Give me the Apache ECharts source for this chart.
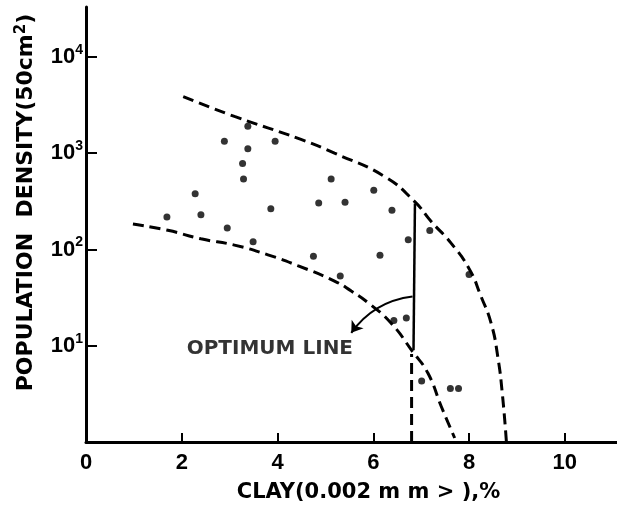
<!DOCTYPE html>
<html>
<head>
<meta charset="utf-8">
<script src="https://cdn.jsdelivr.net/npm/echarts@6/dist/echarts.min.js"></script>
<style>
  html, body { margin: 0; padding: 0; background: #fff; }
  #chart { width: 617px; height: 510px; }
</style>
</head>
<body>
<div id="chart"></div>
<script>
// Population density vs clay content, with envelope curves and optimum line

const xTickValues = [2, 4, 6, 8, 10];
const xLabelValues = [0, 2, 4, 6, 8, 10];
const yTickValues = [10, 100, 1000, 10000];

// observed points
const clayPct = [3.38, 2.89, 3.95, 3.38, 3.27, 3.29, 5.12, 2.28, 6.01, 4.86,
  5.41, 6.39, 3.86, 1.69, 2.40, 2.95, 3.49, 6.73, 6.14, 4.75,
  5.31, 6.43, 6.69, 7.18, 8.00, 7.01, 7.61, 7.78];
const density = [1900, 1330, 1330, 1110, 780, 540, 540, 378, 411, 304,
  309, 255, 265, 218, 230, 167, 120, 126, 87, 85,
  53, 18.3, 19.4, 157, 55, 4.3, 3.6, 3.6];

// upper dashed envelope
const upperX = [2.03, 3.10, 4.49, 5.19, 6.23, 6.86, 7.21, 7.62, 8.01, 8.25, 8.46, 8.60, 8.70, 8.78];
const upperY = [3870, 2410, 1390, 1000, 575, 316, 195, 117, 62, 32.5, 17.2, 7.7, 3.0, 1];

// lower dashed envelope
const lowerX = [0.98, 1.71, 2.40, 3.10, 3.80, 4.42, 5.19, 5.54, 5.89, 6.37, 6.82, 7.14, 7.42, 7.70];
const lowerY = [184, 158, 129, 111, 88, 68, 47, 37, 28, 17.2, 8.7, 5.2, 2.34, 1.1];

// optimum line (solid) and its dashed drop to the axis
const optX = [6.84, 6.87];
const optY = [9, 300];
const dropX = [6.80, 6.80];
const dropY = [1, 8.2];

// annotation arrow and label
const arrowFrom = [6.82, 32.5];
const arrowTo = [5.54, 13.6];
const noteText = 'OPTIMUM LINE';
const notePos = [3.84, 9.3];

const zip = (xs, ys) => xs.map((x, i) => [x, ys[i]]);

const INK = '#000';
const LABEL_FONT = 'Liberation Sans';
const TITLE_FONT = 'DejaVu Sans';

const dashed = { color: INK, width: 3, type: [11, 6] };

const chart = echarts.init(document.getElementById('chart'), null, { renderer: 'canvas' });

chart.setOption({
  backgroundColor: '#fff',
  animation: false,
  grid: { left: 86, right: 0, top: 7, bottom: 68 },
  xAxis: {
    type: 'value',
    min: 0,
    max: 11.09,
    name: 'CLAY(0.002 m m > ),%',
    nameLocation: 'middle',
    nameGap: 40,
    nameTextStyle: {
      color: INK, fontFamily: TITLE_FONT, fontWeight: 'bold', fontSize: 21,
      padding: [0, 0, 0, 34]
    },
    axisLine: { onZero: false, lineStyle: { color: INK, width: 3 } },
    axisTick: { inside: true, length: 9, customValues: xTickValues, lineStyle: { color: INK, width: 2 } },
    axisLabel: {
      customValues: xLabelValues,
      color: INK, fontFamily: LABEL_FONT, fontWeight: 'bold', fontSize: 22, margin: 10
    },
    splitLine: { show: false }
  },
  yAxis: {
    type: 'log',
    logBase: 10,
    min: 1,
    max: 33000,
    name: '{a|POPULATION  DENSITY(50cm}{s|2}{a|)}',
    nameLocation: 'middle',
    nameGap: 47,
    nameTextStyle: {
      color: INK,
      padding: [0, 0, 0, 44],
      rich: {
        a: { color: INK, fontFamily: TITLE_FONT, fontWeight: 'bold', fontSize: 22, lineHeight: 25 },
        s: { color: INK, fontFamily: TITLE_FONT, fontWeight: 'bold', fontSize: 15, verticalAlign: 'top', lineHeight: 15 }
      }
    },
    axisLine: { lineStyle: { color: INK, width: 3 } },
    axisTick: { inside: true, length: 11, customValues: yTickValues, lineStyle: { color: INK, width: 2 } },
    axisLabel: {
      customValues: yTickValues,
      margin: 3,
      formatter: v => '{b|10}{e|' + Math.round(Math.log10(v)) + '}',
      rich: {
        b: { color: INK, fontFamily: LABEL_FONT, fontWeight: 'bold', fontSize: 22, lineHeight: 28 },
        e: { color: INK, fontFamily: LABEL_FONT, fontWeight: 'bold', fontSize: 14, verticalAlign: 'top', lineHeight: 14 }
      }
    },
    splitLine: { show: false }
  },
  series: [
    {
      type: 'line',
      data: zip(upperX, upperY),
      smooth: 0.5,
      showSymbol: false,
      lineStyle: dashed,
      silent: true
    },
    {
      type: 'line',
      data: zip(lowerX, lowerY),
      smooth: 0.5,
      showSymbol: false,
      lineStyle: dashed,
      silent: true
    },
    {
      type: 'line',
      data: zip(optX, optY),
      showSymbol: false,
      lineStyle: { color: INK, width: 2.5 },
      silent: true
    },
    {
      type: 'line',
      data: zip(dropX, dropY),
      showSymbol: false,
      lineStyle: dashed,
      silent: true
    },
    {
      type: 'scatter',
      data: zip(clayPct, density),
      symbol: 'circle',
      symbolSize: 7,
      itemStyle: { color: INK },
      silent: true
    },
    {
      type: 'lines',
      coordinateSystem: 'cartesian2d',
      symbol: ['none', 'arrow'],
      symbolSize: 11,
      lineStyle: { color: INK, width: 2, curveness: -0.22, opacity: 1 },
      data: [{ coords: [arrowFrom, arrowTo] }],
      silent: true
    },
    {
      type: 'scatter',
      data: [notePos],
      symbolSize: 0,
      label: {
        show: true,
        position: 'inside',
        formatter: noteText,
        color: INK,
        fontFamily: TITLE_FONT,
        fontWeight: 'bold',
        fontSize: 20
      },
      silent: true
    }
  ]
});
</script>
</body>
</html>
